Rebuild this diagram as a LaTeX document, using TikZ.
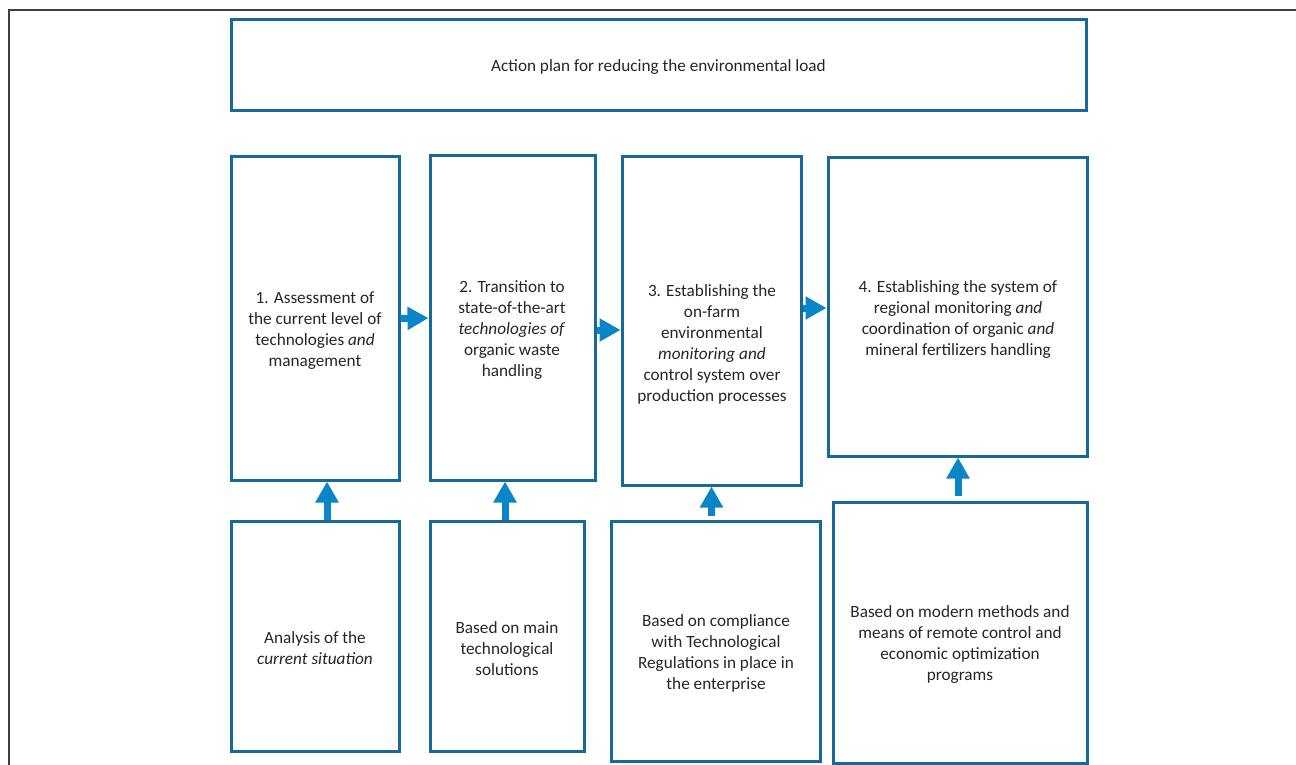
\documentclass[tikz,border=0pt]{standalone}
\usepackage{fontspec}
\setmainfont{Carlito}
\usetikzlibrary{arrows.meta}
\definecolor{boxblue}{HTML}{17699A}
\definecolor{arrblue}{HTML}{0A86C8}
\tikzset{
	box/.style={draw=boxblue,line width=3pt,inner sep=0pt},
	txt/.style={align=center,text=black!85,font=\fontsize{17.2}{21}\selectfont},
	bigarrow/.style={arrblue,line width=7pt,-{Triangle[width=22pt,length=21pt]}}
}
\begin{document}
\begin{tikzpicture}[x=1pt,y=-1pt]
			\useasboundingbox (0,0) rectangle (1296,765);
			\draw [black!75,line width=1.5pt] (9,765) -- (9,10) -- (1296,10);
			\node [box,minimum width=855pt,minimum height=91pt] (plan) at (658.5,65.5) {};
			\node [txt] (tplan) at (658.5,67) {Action plan for reducing the environmental load};
			\node [box,minimum width=168pt,minimum height=323pt] (s1) at (315,318.5) {};
			\node [box,minimum width=165pt,minimum height=324pt] (s2) at (512.5,318) {};
			\node [box,minimum width=179pt,minimum height=328pt] (s3) at (711.5,321) {};
			\node [box,minimum width=259pt,minimum height=298pt] (s4) at (957.5,307) {};
			\node [box,minimum width=168pt,minimum height=230pt] (b1) at (315,636) {};
			\node [box,minimum width=154pt,minimum height=230pt] (b2) at (507,636) {};
			\node [box,minimum width=209pt,minimum height=240pt] (b3) at (715.5,641) {};
			\node [box,minimum width=254pt,minimum height=261pt] (b4) at (960,632.5) {};
			\node [txt] (t1) at (315,331) {1. Assessment of\\the current level of\\technologies \textit{and}\\management};
			\node [txt] (t2) at (512,330) {2. Transition to\\state-of-the-art\\\textit{technologies of}\\organic waste\\handling};
			\node [txt] (t3) at (712,344) {3. Establishing the\\on-farm\\environmental\\\textit{monitoring and}\\control system over\\production processes};
			\node [txt] (t4) at (958,320) {4. Establishing the system of\\regional monitoring \textit{and}\\coordination of organic \textit{and}\\mineral fertilizers handling};
			\node [txt] (u1) at (315,648) {Analysis of the\\\textit{current situation}};
			\node [txt] (u2) at (507,649) {Based on main\\technological\\solutions};
			\node [txt] (u3) at (716,653) {Based on compliance\\with Technological\\Regulations in place in\\the enterprise};
			\node [txt] (u4) at (960,645) {Based on modern methods and\\means of remote control and\\economic optimization\\programs};
			\draw [bigarrow] (s1.east) -- (s2.west);
			\draw [bigarrow] ([yshift=-12pt]s2.east) -- ([yshift=-12pt]s2.east -| s3.west);
			\draw [bigarrow] ([yshift=13pt]s3.east) -- ([yshift=13pt]s3.east -| s4.west);
			\draw [bigarrow] ([xshift=12pt]b1.north) -- ([xshift=12pt]b1.north |- s1.south);
			\draw [bigarrow] ([xshift=-2pt]b2.north) -- ([xshift=-2pt]b2.north |- s2.south);
			\draw [bigarrow] ([yshift=4pt,xshift=-4pt]b3.north) -- ([xshift=-4pt]b3.north |- s3.south);
			\draw [bigarrow] ([yshift=5pt,xshift=-2pt]b4.north) -- ([xshift=-2pt]b4.north |- s4.south);
		\end{tikzpicture}
\end{document}
